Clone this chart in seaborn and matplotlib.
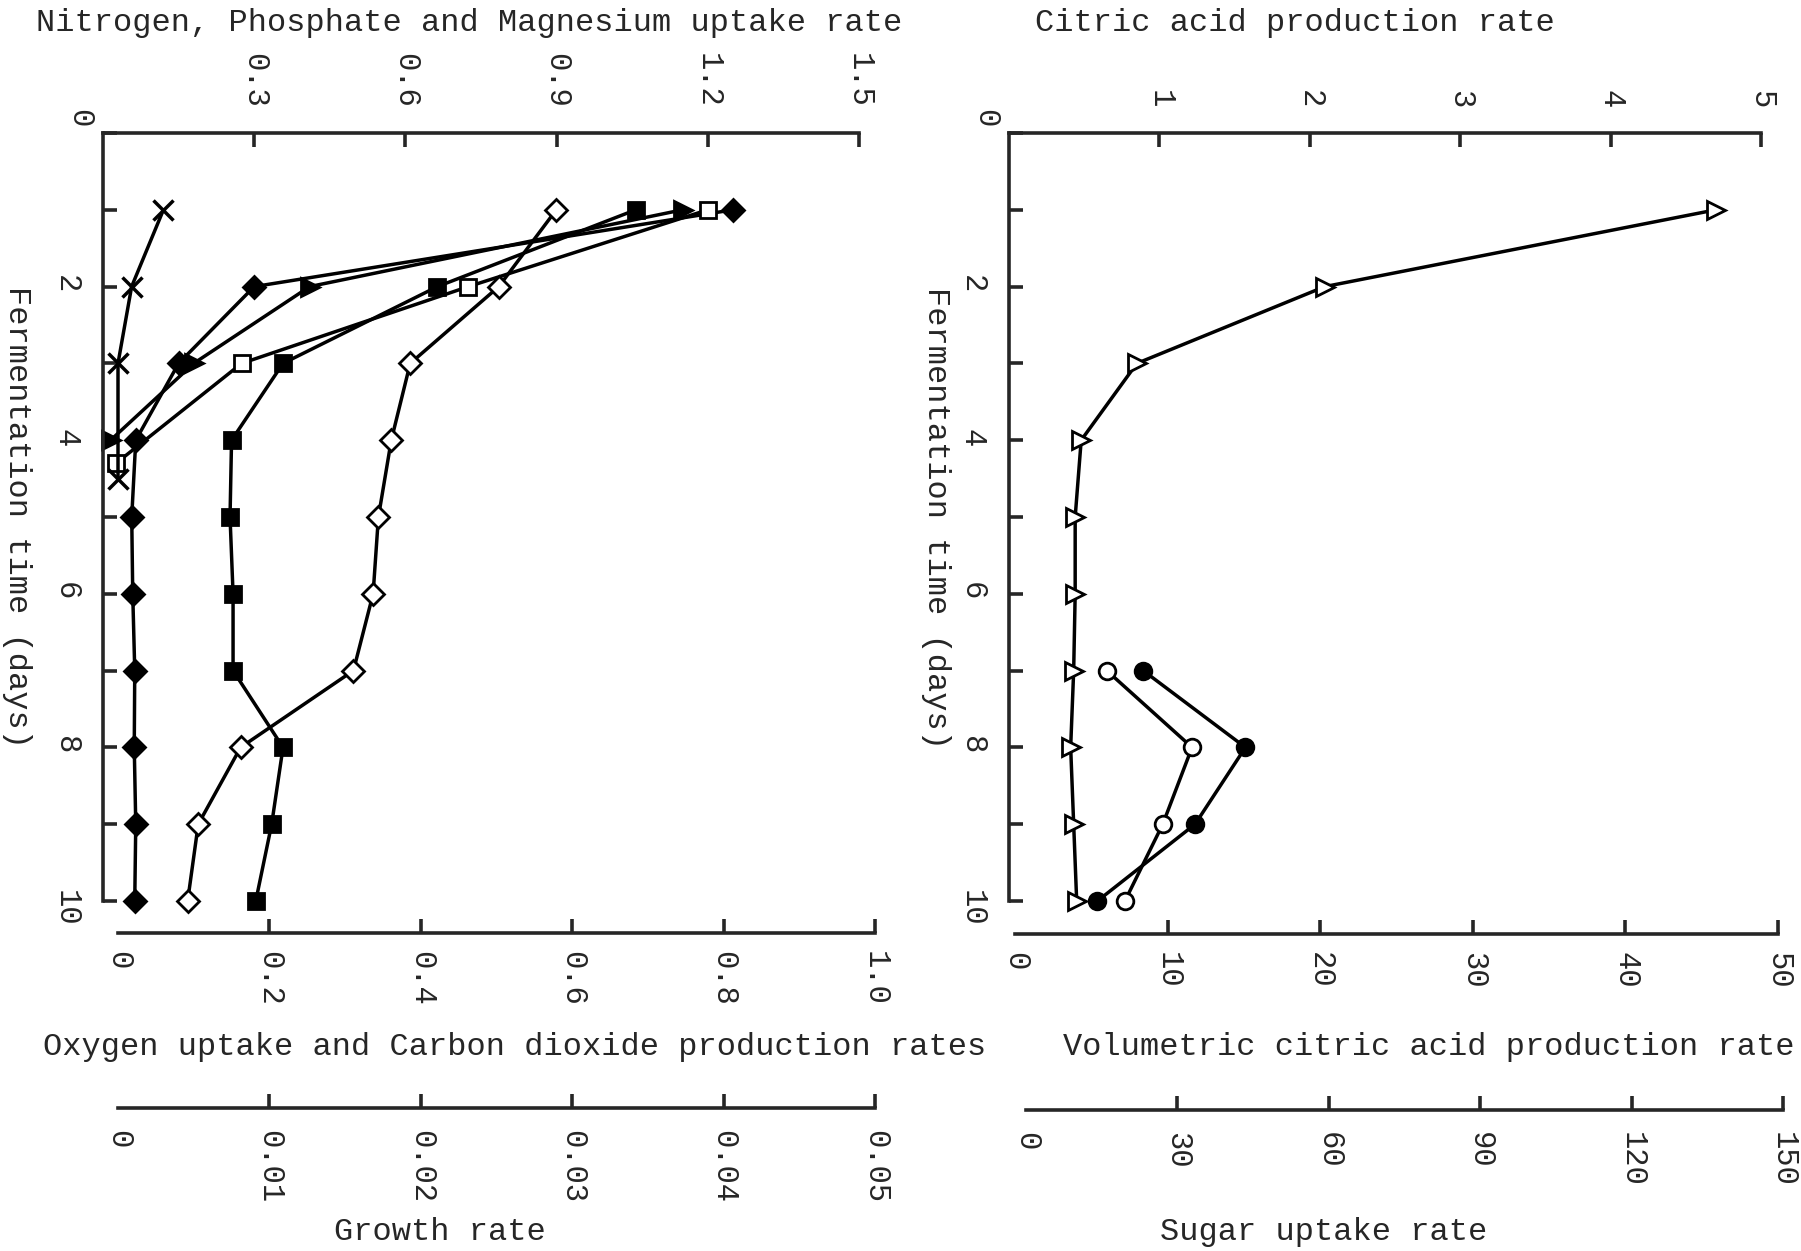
import numpy as np
import pandas as pd
import seaborn as sns
import matplotlib
import matplotlib.pyplot as plt

# values
days = [1, 2, 3, 4, 5, 6, 7, 8, 9, 10]

# left panel - nitrogen / phosphate / magnesium uptake (top scale 0-1.5)
nitrogen = [1.25, 0.30, 0.15, 0.065, 0.057, 0.059, 0.063, 0.062, 0.065, 0.063]
phosphate_days = [1, 2, 3, 4]
phosphate = [1.15, 0.41, 0.18, 0.015]
magnesium_days = [1, 2, 3, 4.3]
magnesium = [1.20, 0.725, 0.275, 0.026]

# left panel - O2 uptake / CO2 production (0-1.0)
oxygen = [0.684, 0.422, 0.218, 0.150, 0.148, 0.152, 0.152, 0.218, 0.203, 0.182]
carbon_dioxide = [0.579, 0.503, 0.386, 0.361, 0.344, 0.337, 0.311, 0.162, 0.106, 0.092]

# left panel - growth rate (0-0.05)
growth_days = [1, 2, 3, 4.5]
growth = [0.0030, 0.0009, 0.0, 0.0]

# right panel
citric = [4.70, 2.10, 0.85, 0.48, 0.44, 0.44, 0.43, 0.41, 0.43, 0.45]
late_days = [7, 8, 9, 10]
volumetric = [8.4, 15.1, 11.8, 5.4]
sugar = [16.0, 32.9, 27.1, 19.6]

# tick values and labels
day_ticks = [0, 2, 4, 6, 8, 10]
day_labels = ['', '2', '4', '6', '8', '10']
odd_days = [1, 3, 5, 7, 9]
npm_ticks = [0.3, 0.6, 0.9, 1.2, 1.5]
npm_labels = ['0.3', '0.6', '0.9', '1.2', '1.5']
gas_ticks = [0, 0.2, 0.4, 0.6, 0.8, 1.0]
gas_labels = ['0', '0.2', '0.4', '0.6', '0.8', '1.0']
growth_ticks = [0, 0.01, 0.02, 0.03, 0.04, 0.05]
growth_labels = ['0', '0.01', '0.02', '0.03', '0.04', '0.05']
citric_ticks = [1, 2, 3, 4, 5]
citric_labels = ['1', '2', '3', '4', '5']
vol_ticks = [0, 10, 20, 30, 40, 50]
vol_labels = ['0', '10', '20', '30', '40', '50']
sugar_ticks = [0, 30, 60, 90, 120, 150]
sugar_labels = ['0', '30', '60', '90', '120', '150']

sns.set_style('ticks')
plt.rcParams['font.family'] = ['Liberation Mono', 'DejaVu Sans Mono']
plt.rcParams['axes.linewidth'] = 2.6

W, H = 1801, 1251
fig = plt.figure(figsize=(W / 100, H / 100), dpi=100)
fig.patch.set_facecolor('white')

TICK = 22
LW = 2.6


def panel(x0, x1, y0=133, y1=901):
    return fig.add_axes([x0 / W, 1 - y1 / H, (x1 - x0) / W, (y1 - y0) / H])


def style_main(ax, xmax, ticks, labels):
    ax.set_xlim(0, xmax)
    ax.set_ylim(10, 0)
    ax.patch.set_visible(False)
    ax.spines['right'].set_visible(False)
    ax.spines['bottom'].set_visible(False)
    ax.xaxis.tick_top()
    ax.set_xticks(ticks, labels, rotation=-90)
    ax.set_yticks(day_ticks, day_labels, rotation=-90)
    ax.set_yticks(odd_days, minor=True)
    ax.tick_params(axis='x', direction='in', length=10, width=LW, pad=18, labelsize=TICK)
    ax.tick_params(axis='y', which='both', direction='in', length=10, width=LW,
                   pad=16, labelsize=TICK)
    ax.annotate('0', xy=(0, 1), xycoords='axes fraction', xytext=(-17, 11),
                textcoords='offset points', rotation=-90, ha='center', va='center',
                fontsize=TICK)


def style_scale(ax, xmax, ticks, labels, offset, pad):
    ax.set_xlim(0, xmax)
    ax.set_ylim(10, 0)
    ax.patch.set_visible(False)
    for s in ['left', 'right', 'top']:
        ax.spines[s].set_visible(False)
    ax.spines['bottom'].set_position(('outward', offset))
    ax.set_yticks([])
    ax.set_xticks(ticks, labels, rotation=-90)
    ax.tick_params(axis='x', direction='in', length=10, width=LW, pad=pad, labelsize=TICK)
    ax.xaxis.get_major_ticks()[0].tick1line.set_visible(False)


def draw(ax, vals, when, marker, face, size, mew=2):
    sns.lineplot(x=vals, y=when, ax=ax, orient='y', estimator=None, color='black',
                 linewidth=2.5, marker=marker, markersize=size, markerfacecolor=face,
                 markeredgecolor='black', markeredgewidth=mew, clip_on=False)


# ---------------- left panel ----------------
ax_npm = panel(103, 859)
ax_gas = panel(118, 875)
ax_gr = panel(118, 875)

draw(ax_npm, nitrogen, days, 'D', 'black', 11)
draw(ax_npm, phosphate, phosphate_days, '>', 'black', 13)
draw(ax_npm, magnesium, magnesium_days, 's', 'white', 12)
draw(ax_gas, oxygen, days, 's', 'black', 12)
draw(ax_gas, carbon_dioxide, days, 'D', 'white', 11)
draw(ax_gr, growth, growth_days, 'x', 'black', 15, mew=2.5)

style_main(ax_npm, 1.5, npm_ticks, npm_labels)
style_scale(ax_gas, 1.0, gas_ticks, gas_labels, 23, 13)
style_scale(ax_gr, 0.05, growth_ticks, growth_labels, 149, 16)

# ---------------- right panel ----------------
ax_ca = panel(1009, 1761)
ax_vol = panel(1015, 1778)
ax_sug = panel(1026, 1783)

draw(ax_ca, citric, days, '>', 'white', 13)
draw(ax_vol, volumetric, late_days, 'o', 'black', 12)
draw(ax_sug, sugar, late_days, 'o', 'white', 12)

style_main(ax_ca, 5, citric_ticks, citric_labels)
style_scale(ax_vol, 50, vol_ticks, vol_labels, 23.5, 13)
style_scale(ax_sug, 150, sugar_ticks, sugar_labels, 150.5, 16)

# axis titles
TITLE = 23
fig.text(469 / W, 1 - 23 / H, 'Nitrogen, Phosphate and Magnesium uptake rate',
         ha='center', va='center', fontsize=TITLE)
fig.text(1295 / W, 1 - 23 / H, 'Citric acid production rate',
         ha='center', va='center', fontsize=TITLE)
fig.text(17 / W, 1 - 517 / H, 'Fermentation time (days)', rotation=-90,
         ha='center', va='center', fontsize=TITLE)
fig.text(936 / W, 1 - 518 / H, 'Fermentation time (days)', rotation=-90,
         ha='center', va='center', fontsize=TITLE)
fig.text(515 / W, 1 - 1047 / H, 'Oxygen uptake and Carbon dioxide production rates',
         ha='center', va='center', fontsize=TITLE)
fig.text(1429 / W, 1 - 1047 / H, 'Volumetric citric acid production rate',
         ha='center', va='center', fontsize=TITLE)
fig.text(440 / W, 1 - 1232 / H, 'Growth rate', ha='center', va='center', fontsize=TITLE)
fig.text(1324 / W, 1 - 1232 / H, 'Sugar uptake rate', ha='center', va='center',
         fontsize=TITLE)

fig.savefig('out.png', dpi=100, facecolor='white')
